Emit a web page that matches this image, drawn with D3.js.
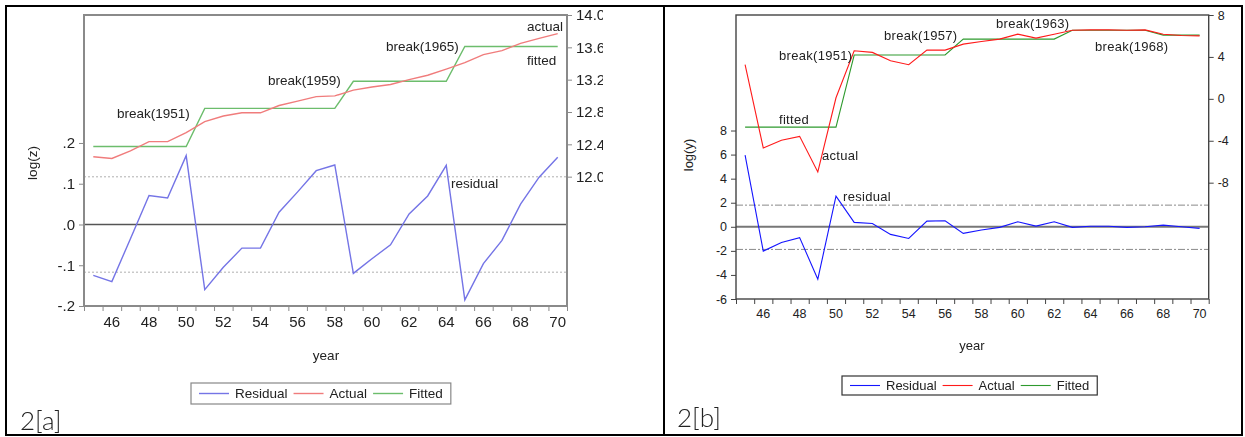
<!DOCTYPE html>
<html>
<head>
<meta charset="utf-8">
<script src="https://cdn.jsdelivr.net/npm/d3@7/dist/d3.min.js"></script>
<style>
  html, body { margin: 0; padding: 0; background: #fff; }
  svg { display: block; font-family: "Liberation Sans", Arial, sans-serif; }
</style>
</head>
<body>
<svg id="chart" width="1245" height="437"></svg>
<script>
// ---- data -------------------------------------------------------------
const years = d3.range(1945, 1971);

// Panel 2[a]: log(z)
const residualA = [-0.125, -0.14, -0.035, 0.071, 0.065, 0.169, -0.16, -0.105, -0.058, -0.058,
                   0.03, 0.08, 0.132, 0.146, -0.12, -0.084, -0.05, 0.026, 0.07, 0.145,
                   -0.185, -0.096, -0.039, 0.05, 0.116, 0.165];
const actualA = [12.246, 12.225, 12.32, 12.434, 12.434, 12.545, 12.68, 12.75, 12.79, 12.79,
                 12.88, 12.935, 12.99, 13.0, 13.07, 13.11, 13.14, 13.2, 13.255, 13.33,
                 13.41, 13.51, 13.56, 13.65, 13.71, 13.77];
const fittedA = [12.373, 12.373, 12.373, 12.373, 12.373, 12.373,
                 12.845, 12.845, 12.845, 12.845, 12.845, 12.845, 12.845, 12.845,
                 13.18, 13.18, 13.18, 13.18, 13.18, 13.18,
                 13.61, 13.61, 13.61, 13.61, 13.61, 13.61];
const bandA = [0.117, -0.117];
const leftTicksA = [-0.2, -0.1, 0, 0.1, 0.2];
const leftLabelsA = ["-.2", "-.1", ".0", ".1", ".2"];
const rightTicksA = [12.0, 12.4, 12.8, 13.2, 13.6, 14.0];
const rightLabelsA = ["12.0", "12.4", "12.8", "13.2", "13.6", "14.0"];

// Panel 2[b]: log(y)
const residualB = [5.96, -2.02, -1.3, -0.9, -4.35, 2.55, 0.37, 0.28, -0.63, -0.97,
                   0.47, 0.5, -0.55, -0.27, -0.05, 0.42, 0.06, 0.42, -0.05, 0.05,
                   0.05, -0.05, 0.0, 0.14, 0.0, -0.13];
const actualB = [3.26, -4.69, -3.96, -3.58, -6.97, 0.1, 4.59, 4.43, 3.64, 3.26,
                 4.65, 4.65, 5.22, 5.47, 5.7, 6.17, 5.79, 6.17, 6.55, 6.58,
                 6.58, 6.55, 6.58, 6.17, 6.04, 6.01];
const fittedB = [-2.7, -2.7, -2.7, -2.7, -2.7, -2.7,
                 4.18, 4.18, 4.18, 4.18, 4.18, 4.18,
                 5.7, 5.7, 5.7, 5.7, 5.7, 5.7,
                 6.55, 6.55, 6.55, 6.55, 6.55,
                 6.08, 6.08, 6.08];
const bandB = [1.8, -1.88];
const leftTicksB = [-6, -4, -2, 0, 2, 4, 6, 8];
const rightTicksB = [-8, -4, 0, 4, 8];

const xLabelYears = d3.range(1946, 1971, 2);
const legendNames = ["Residual", "Actual", "Fitted"];

// ---- drawing ----------------------------------------------------------
const svg = d3.select("#chart");

// soft look of the left panel; its right-hand labels run into the cell edge
const cellEdgeA = 603;
const defs = svg.append("defs");
defs.append("filter").attr("id", "soft")
  .append("feGaussianBlur").attr("stdDeviation", 0.45);
const clipRectA = defs.append("clipPath").attr("id", "clipA").append("rect");

function drawPanel(cfg) {
  const g = svg.append("g");
  if (cfg.filter) g.attr("filter", cfg.filter);
  const p = cfg.plot;

  const x = d3.scaleLinear().domain([1944.5, 1970.5]).range([p.x0, p.x1]);
  const yL = d3.scaleLinear().domain(cfg.leftDomain).range([p.y1, p.y0]);
  const yR = d3.scaleLinear().domain(cfg.rightDomain).range([p.y1, p.y0]);

  // residual bands and zero line
  cfg.band.forEach(v => {
    g.append("line")
      .attr("x1", p.x0).attr("x2", p.x1)
      .attr("y1", yL(v)).attr("y2", yL(v))
      .attr("stroke", cfg.bandColor).attr("stroke-width", 1)
      .attr("stroke-dasharray", cfg.bandDash);
  });
  g.append("line")
    .attr("x1", p.x0).attr("x2", p.x1)
    .attr("y1", yL(0)).attr("y2", yL(0))
    .attr("stroke", cfg.zeroColor).attr("stroke-width", cfg.zeroWidth);

  // series
  const lineL = d3.line().x((d, i) => x(years[i])).y(d => yL(d));
  const lineR = d3.line().x((d, i) => x(years[i])).y(d => yR(d));
  g.append("path").datum(cfg.fitted).attr("d", lineR)
    .attr("fill", "none").attr("stroke", cfg.colors[2]).attr("stroke-width", cfg.lw);
  g.append("path").datum(cfg.actual).attr("d", lineR)
    .attr("fill", "none").attr("stroke", cfg.colors[1]).attr("stroke-width", cfg.lw);
  g.append("path").datum(cfg.residual).attr("d", lineL)
    .attr("fill", "none").attr("stroke", cfg.colors[0]).attr("stroke-width", cfg.lw);

  // frame
  g.append("rect")
    .attr("x", p.x0).attr("y", p.y0)
    .attr("width", p.x1 - p.x0).attr("height", p.y1 - p.y0)
    .attr("fill", "none").attr("stroke", cfg.frameColor).attr("stroke-width", cfg.frameWidth);

  // left axis
  const axL = d3.axisLeft(yL).tickValues(cfg.leftTicks).tickSize(5).tickPadding(4)
    .tickFormat((d, i) => cfg.leftLabels[i]);
  const gl = g.append("g").attr("transform", `translate(${p.x0},0)`).call(axL);
  // right axis (clip region is in the axis group's own coordinates)
  const axR = d3.axisRight(yR).tickValues(cfg.rightTicks).tickSize(5).tickPadding(4)
    .tickFormat((d, i) => cfg.rightLabels[i]);
  const gr = g.append("g").attr("transform", `translate(${p.x1},0)`).call(axR);
  if (cfg.rightClip) {
    cfg.rightClip.rect.attr("x", -50).attr("y", 0)
      .attr("width", 50 + cfg.rightClip.edge - p.x1).attr("height", 437);
    gr.attr("clip-path", cfg.rightClip.url);
  }
  // bottom axis: ticks between years, labels on even years
  const axB = d3.axisBottom(x).tickValues(d3.range(1944.5, 1971, 1)).tickSize(5).tickFormat("");
  const gb = g.append("g").attr("transform", `translate(0,${p.y1})`).call(axB);
  g.append("g").selectAll("text").data(xLabelYears).join("text")
    .attr("x", d => x(d)).attr("y", p.y1 + cfg.xLabelOffset)
    .attr("text-anchor", "middle")
    .attr("font-size", cfg.tickFont).attr("fill", "#222")
    .text(d => String(d).slice(2));

  [gl, gr, gb].forEach(a => {
    a.select(".domain").remove();
    a.selectAll(".tick line").attr("stroke", cfg.frameColor);
    a.selectAll(".tick text").attr("font-size", cfg.tickFont).attr("fill", "#222")
      .attr("font-family", "Liberation Sans, Arial, sans-serif");
  });

  // axis titles
  g.append("text")
    .attr("transform", `translate(${cfg.yTitle.x},${cfg.yTitle.y}) rotate(-90)`)
    .attr("text-anchor", "middle").attr("font-size", cfg.textFont).attr("fill", "#222")
    .text(cfg.yTitle.text);
  g.append("text")
    .attr("x", cfg.xTitle.x).attr("y", cfg.xTitle.y)
    .attr("text-anchor", "middle").attr("font-size", cfg.textFont).attr("fill", "#222")
    .text("year");

  // annotations
  cfg.notes.forEach(n => {
    g.append("text").attr("x", n.x).attr("y", n.y)
      .attr("font-size", cfg.textFont).attr("fill", "#222")
      .attr("letter-spacing", cfg.noteSpacing)
      .text(n.t);
  });

  // legend
  const lg = g.append("g");
  const box = lg.append("rect")
    .attr("x", cfg.legend.x).attr("y", cfg.legend.y)
    .attr("height", cfg.legend.h)
    .attr("fill", "#fff").attr("stroke", cfg.legend.stroke).attr("stroke-width", 1.2);
  let cx = cfg.legend.x + 8;
  const cy = cfg.legend.y + cfg.legend.h / 2;
  legendNames.forEach((name, i) => {
    lg.append("line").attr("x1", cx).attr("x2", cx + 30)
      .attr("y1", cy).attr("y2", cy)
      .attr("stroke", cfg.colors[i]).attr("stroke-width", cfg.lw);
    cx += 36;
    const t = lg.append("text").attr("x", cx).attr("y", cy + 4.5)
      .attr("font-size", cfg.textFont).attr("fill", "#222").text(name);
    cx += t.node().getComputedTextLength() + 6;
  });
  box.attr("width", cx - cfg.legend.x + 2);
}

drawPanel({
  plot: { x0: 84, x1: 567, y0: 15, y1: 306 },
  leftDomain: [-0.2, 0.514], rightDomain: [10.4, 14.0],
  residual: residualA, actual: actualA, fitted: fittedA, band: bandA,
  leftTicks: leftTicksA, leftLabels: leftLabelsA,
  rightTicks: rightTicksA, rightLabels: rightLabelsA,
  colors: ["#7474e6", "#f07c7c", "#6cbd6c"], lw: 1.4,
  bandColor: "#b0b0b0", bandDash: "2,2",
  zeroColor: "#555", zeroWidth: 1.6,
  frameColor: "#8a8a8a", frameWidth: 2,
  tickFont: 15, textFont: 13.5, noteSpacing: 0, xLabelOffset: 21,
  yTitle: { x: 37, y: 163, text: "log(z)" },
  xTitle: { x: 326, y: 360 },
  notes: [
    { t: "break(1951)", x: 117, y: 118 },
    { t: "break(1959)", x: 268, y: 85 },
    { t: "break(1965)", x: 386, y: 51 },
    { t: "actual", x: 527, y: 31 },
    { t: "fitted", x: 527, y: 65 },
    { t: "residual", x: 451, y: 188 }
  ],
  legend: { x: 191, y: 383, h: 21, stroke: "#888" },
  rightClip: { url: "url(#clipA)", rect: clipRectA, edge: cellEdgeA },
  filter: "url(#soft)"
});

drawPanel({
  plot: { x0: 736, x1: 1208.7, y0: 15, y1: 299 },
  leftDomain: [-6, 17.6], rightDomain: [-19.1, 8],
  residual: residualB, actual: actualB, fitted: fittedB, band: bandB,
  leftTicks: leftTicksB, leftLabels: leftTicksB.map(String),
  rightTicks: rightTicksB, rightLabels: rightTicksB.map(String),
  colors: ["#1515ff", "#ff1a1a", "#2e9a2e"], lw: 1.1,
  bandColor: "#8a8a8a", bandDash: "7,2,2,2",
  zeroColor: "#777", zeroWidth: 2,
  frameColor: "#444", frameWidth: 1.4,
  tickFont: 12.5, textFont: 13, noteSpacing: 0.3, xLabelOffset: 19,
  yTitle: { x: 693, y: 155, text: "log(y)" },
  xTitle: { x: 972, y: 350 },
  notes: [
    { t: "break(1951)", x: 779, y: 60 },
    { t: "break(1957)", x: 884, y: 40 },
    { t: "break(1963)", x: 996, y: 28 },
    { t: "break(1968)", x: 1095, y: 51 },
    { t: "fitted", x: 779, y: 124 },
    { t: "actual", x: 822, y: 160 },
    { t: "residual", x: 843, y: 201 }
  ],
  legend: { x: 842, y: 376, h: 19, stroke: "#333" }
});

// panel captions
svg.append("text").attr("x", 20).attr("y", 430)
  .attr("font-size", 26).attr("font-weight", 300).attr("fill", "#222")
  .attr("font-family", "Lato, 'Open Sans', sans-serif").text("2[a]");
svg.append("text").attr("x", 677).attr("y", 427)
  .attr("font-size", 26).attr("font-weight", 300).attr("fill", "#222")
  .attr("font-family", "Lato, 'Open Sans', sans-serif").text("2[b]");

// outer table borders
svg.append("rect").attr("x", 6).attr("y", 6).attr("width", 1236).attr("height", 429)
  .attr("fill", "none").attr("stroke", "#000").attr("stroke-width", 2);
svg.append("line").attr("x1", 664).attr("x2", 664).attr("y1", 6).attr("y2", 435)
  .attr("stroke", "#000").attr("stroke-width", 2);
</script>
</body>
</html>
